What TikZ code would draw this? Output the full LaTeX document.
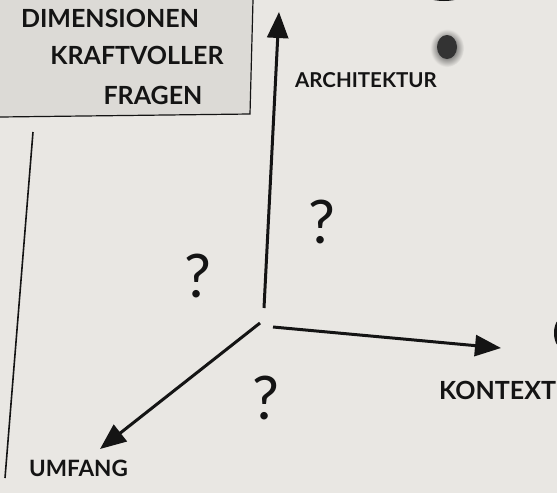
\documentclass[tikz,border=0pt]{standalone}
\usepackage{fontspec}
\setmainfont{Lato}
\usetikzlibrary{arrows.meta,positioning}
\definecolor{paper}{RGB}{233,231,227}
\definecolor{boxgray}{RGB}{220,218,214}
\definecolor{ink}{RGB}{20,20,20}
\begin{document}
\begin{tikzpicture}[x=1pt,y=-1pt]
\tikzset{
  handtext/.style={inner sep=0pt,text=ink,font=\fontsize{#1}{#1}\selectfont\bfseries},
  question/.style={inner sep=0pt,font=\fontsize{60}{60}\selectfont,text=ink},
  axis/.style={-{Triangle[length=26pt,width=21pt]},line width=3pt,draw=ink},
  sketchline/.style={line width=1.6pt,draw=ink}
}
\fill[paper] (0,0) rectangle (557,493);
\useasboundingbox (0,0) rectangle (557,493);
% title box
\fill[boxgray] (0,0) -- (253,0) -- (250,114) -- (0,117) -- cycle;
\draw[sketchline,line width=1.2pt] (253,0) -- (250,114) -- (0,117);
\node[handtext=25] (n_t1) at (110,18) {DIMENSIONEN};
\node[handtext=25] (n_t2) at (137,55) {KRAFTVOLLER};
\node[handtext=25] (n_t3) at (153,95) {FRAGEN};
% left line
\coordinate (c_l0) at (33,132);
\coordinate (c_l1) at (5,478);
\draw[sketchline] (c_l0) -- (c_l1);
% axes
\coordinate (c_up0) at (264,308);
\coordinate (c_up1) at (279,12);
\coordinate (c_rt0) at (273,327);
\coordinate (c_rt1) at (501,348);
\coordinate (c_dl0) at (260,323);
\coordinate (c_dl1) at (100,449);
\draw[axis] (c_up0) -- (c_up1);
\draw[axis] (c_rt0) -- (c_rt1);
\draw[axis] (c_dl0) -- (c_dl1);
\node[handtext=20.5,anchor=west] (n_arch) at (295,80) {ARCHITEKTUR};
\node[handtext=25,anchor=west] (n_kontext) at (439,390) {KONTEXT};
\node[handtext=22.5,anchor=west] (n_umfang) at (29,468) {UMFANG};
% question marks
\node[question] (n_q1) at (322,222) {?};
\node[question] (n_q2) at (198,276) {?};
\node[question] (n_q3) at (266,398) {?};
% smudges
\shade[inner color=black!90,outer color=paper] (447,48) ellipse (17 and 19);
\fill[black!80] (447,47) ellipse (10 and 12);
\begin{scope}
\clip (0,0) rectangle (557,493);
\fill[ink] (444,-9) ellipse (24 and 10);
\fill[ink] (562,333) ellipse (8 and 15);
\end{scope}
\end{tikzpicture}
\end{document}
